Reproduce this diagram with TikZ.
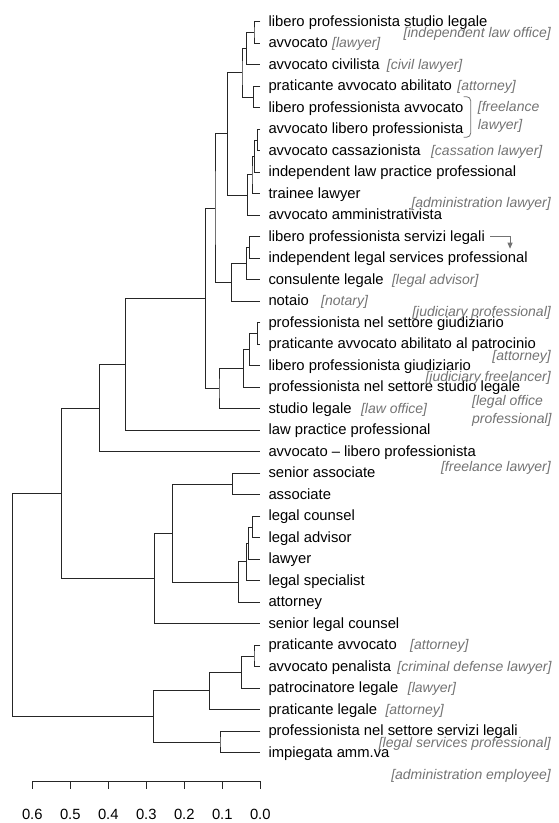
\documentclass[tikz,border=0pt]{standalone}
\usepackage{fontspec}
\setmainfont{Liberation Sans}
\usetikzlibrary{calc,positioning,arrows.meta}
\definecolor{notegray}{rgb}{0.45,0.45,0.45}
\tikzset{
  branch/.style={line width=0.9pt, black!85},
  leaf/.style={font=\fontsize{14.8}{17}\selectfont, inner sep=0pt, text height=9pt, text depth=0pt},
  notebase/.style={font=\fontsize{14}{18}\selectfont\itshape, text=notegray, inner sep=0pt},
  note/.style={notebase, text height=9pt, text depth=0pt},
  pointer/.style={line width=0.8pt, notegray, -{Triangle[length=6pt,width=5pt]}},
  bracketline/.style={line width=0.8pt, notegray, rounded corners=4pt}
}
\newcommand\joinpair[4]{%
  \path let \p1=($(#3)!.5!(#4)$) in (#2pt,\y1) coordinate (#1);
  \draw[branch] (#3) -| (#1) |- (#4);}
\begin{document}
\begin{tikzpicture}[x=1pt,y=1pt]
\useasboundingbox (0,0) rectangle (558,-823);
\foreach \txt [count=\i] in {libero professionista studio legale,avvocato,avvocato civilista,
  praticante avvocato abilitato,libero professionista avvocato,avvocato libero professionista,
  avvocato cassazionista,independent law practice professional,trainee lawyer,
  avvocato amministrativista,libero professionista servizi legali,
  independent legal services professional,consulente legale,notaio,
  professionista nel settore giudiziario,praticante avvocato abilitato al patrocinio,
  libero professionista giudiziario,professionista nel settore studio legale,studio legale,
  law practice professional,avvocato – libero professionista,senior associate,associate,
  legal counsel,legal advisor,lawyer,legal specialist,attorney,senior legal counsel,
  praticante avvocato,avvocato penalista,patrocinatore legale,praticante legale,
  professionista nel settore servizi legali,impiegata amm.va}{
  \pgfmathsetmacro\yy{-21.7-(\i-1)*21.5}
  \coordinate (t\i) at (260.3,\yy);
  \node[leaf, right=8pt of t\i] (l\i) {\txt};
}
\joinpair{m1}{254}{t1}{t2}
\joinpair{m2}{246.7}{m1}{t3}
\joinpair{m3}{253.5}{t4}{t5}
\joinpair{m4}{242}{m2}{m3}
\joinpair{m5}{257.5}{t6}{t7}
\joinpair{m6}{254.5}{m5}{t8}
\joinpair{m7}{252}{m6}{t9}
\joinpair{m8}{247.5}{m7}{t10}
\joinpair{m9}{227.3}{m4}{m8}
\joinpair{m10}{249.5}{t11}{t12}
\joinpair{m11}{246.7}{m10}{t13}
\joinpair{m12}{231.5}{m11}{t14}
\joinpair{m13}{215}{m9}{m12}
\joinpair{m14}{257.3}{t15}{t16}
\joinpair{m15}{249.3}{m14}{t17}
\joinpair{m16}{243.3}{m15}{t18}
\joinpair{m17}{219}{m16}{t19}
\joinpair{m18}{205.2}{m13}{m17}
\joinpair{m19}{125.7}{m18}{t20}
\joinpair{m20}{99.3}{m19}{t21}
\joinpair{m21}{232.3}{t22}{t23}
\joinpair{m22}{252.3}{t24}{t25}
\joinpair{m23}{248.7}{m22}{t26}
\joinpair{m24}{246.7}{m23}{t27}
\joinpair{m25}{238.7}{m24}{t28}
\joinpair{m26}{172.3}{m21}{m25}
\joinpair{m27}{154.7}{m26}{t29}
\joinpair{m28}{61.7}{m20}{m27}
\joinpair{m29}{254}{t30}{t31}
\joinpair{m30}{241.3}{m29}{t32}
\joinpair{m31}{209.7}{m30}{t33}
\joinpair{m32}{220}{t34}{t35}
\joinpair{m33}{153.7}{m31}{m32}
\joinpair{m34}{12.7}{m28}{m33}
\foreach \n/\g/\txt in {2/4/{[lawyer]},3/7/{[civil lawyer]},4/5/{[attorney]},
  7/10/{[cassation lawyer]},13/8/{[legal advisor]},14/12/{[notary]},19/9/{[law office]},
  30/13/{[attorney]},31/6/{[criminal defense lawyer]},32/9/{[lawyer]},33/8/{[attorney]}}
  \node[note, right=\g pt of l\n] (c\n) {\txt};
\node[note, anchor=east] (nlawoffice) at (551,-33) {[independent law office]};
\node[note, anchor=east] (nadminlaw) at (551,-203) {[administration lawyer]};
\node[note, anchor=east] (njudprof) at (551,-312) {[judiciary professional]};
\node[note, anchor=east] (nattorney) at (551,-356) {[attorney]};
\node[note, anchor=east] (njudfree) at (551,-377) {[judiciary freelancer]};
\node[notebase, align=left, anchor=west] (noffice) at (472,-410.5) {[legal office\\professional]};
\node[note, anchor=east] (nfreelaw) at (551,-467) {[freelance lawyer]};
\node[note, anchor=east] (nservices) at (551,-743) {[legal services professional]};
\node[note, anchor=east] (nemployee) at (551,-775) {[administration employee]};
\coordinate (bt) at ($(l5.east)+(7,11)$);
\coordinate (bb) at ($(l6.east)+(7,-8)$);
\draw[bracketline] ($(bt)+(-7,0)$) -- (bt) -- (bb) -- ($(bb)+(-7,0)$);
\node[notebase, align=left, anchor=west] (nfreelance) at ($(bt)!.5!(bb)+(7,0)$) {[freelance\\lawyer]};
\coordinate (ps) at ($(l11.east)+(5,0)$);
\coordinate (pe) at ($(ps)+(20,-12)$);
\draw[pointer] (ps) -| (pe);
\foreach \v in {0,...,6}{
  \coordinate (k\v) at ({260.3-38*\v},-781);
  \draw[branch] (k\v) -- ++(0,-8);
  \node[leaf, anchor=center] (a\v) at ($(k\v)+(0,-34)$) {0.\v};
}
\draw[branch] (k6) -- (k0);
\end{tikzpicture}
\end{document}
